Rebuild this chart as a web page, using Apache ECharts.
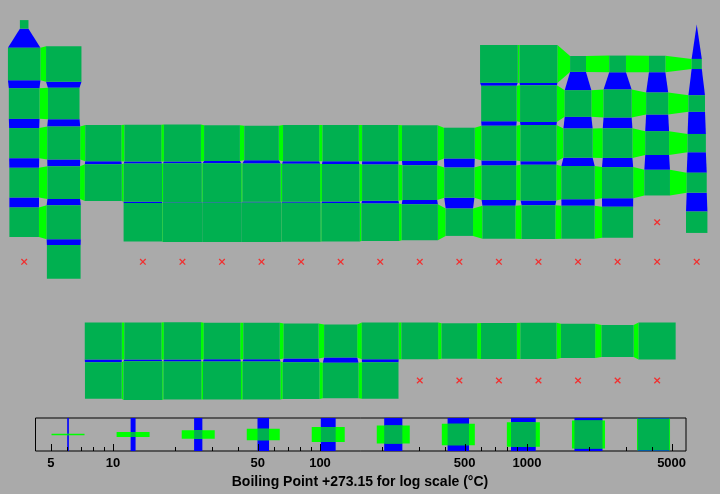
<!DOCTYPE html>
<html><head><meta charset="utf-8">
<script src="https://cdn.jsdelivr.net/npm/echarts@6/dist/echarts.min.js"></script>
<style>html,body{margin:0;padding:0;background:#aaaaaa;} #chart{width:720px;height:494px;}</style>
</head><body><div id="chart"></div>
<script>
// Elements 1..118
const symbols = ["H","He","Li","Be","B","C","N","O","F","Ne","Na","Mg","Al","Si","P","S","Cl","Ar",
"K","Ca","Sc","Ti","V","Cr","Mn","Fe","Co","Ni","Cu","Zn","Ga","Ge","As","Se","Br","Kr",
"Rb","Sr","Y","Zr","Nb","Mo","Tc","Ru","Rh","Pd","Ag","Cd","In","Sn","Sb","Te","I","Xe",
"Cs","Ba","La","Ce","Pr","Nd","Pm","Sm","Eu","Gd","Tb","Dy","Ho","Er","Tm","Yb","Lu",
"Hf","Ta","W","Re","Os","Ir","Pt","Au","Hg","Tl","Pb","Bi","Po","At","Rn",
"Fr","Ra","Ac","Th","Pa","U","Np","Pu","Am","Cm","Bk","Cf","Es","Fm","Md","No","Lr",
"Rf","Db","Sg","Bh","Hs","Mt","Ds","Rg","Cn","Nh","Fl","Mc","Lv","Ts","Og"];
const groupCol = [1,18,
1,2,13,14,15,16,17,18,
1,2,13,14,15,16,17,18,
1,2,3,4,5,6,7,8,9,10,11,12,13,14,15,16,17,18,
1,2,3,4,5,6,7,8,9,10,11,12,13,14,15,16,17,18,
1,2,3,4,5,6,7,8,9,10,11,12,13,14,15,16,17,
4,5,6,7,8,9,10,11,12,13,14,15,16,17,18,
1,2,3,4,5,6,7,8,9,10,11,12,13,14,15,16,17,
4,5,6,7,8,9,10,11,12,13,14,15,16,17,18];
const periodRow = [1,1,
2,2,2,2,2,2,2,2,
3,3,3,3,3,3,3,3,
4,4,4,4,4,4,4,4,4,4,4,4,4,4,4,4,4,4,
5,5,5,5,5,5,5,5,5,5,5,5,5,5,5,5,5,5,
6,6,9,9,9,9,9,9,9,9,9,9,9,9,9,9,9,
6,6,6,6,6,6,6,6,6,6,6,6,6,6,6,
7,7,10,10,10,10,10,10,10,10,10,10,10,10,10,10,10,
7,7,7,7,7,7,7,7,7,7,7,7,7,7,7];
// Boiling point + 273.15 (K); null = no data
const boilingK = [20.28,4.22,
1615,2742,4200,4300,77.36,90.2,85.03,27.07,
1156,1363,2792,3538,553.6,717.9,239.1,87.3,
1032,1757,3109,3560,3680,2944,2334,3134,3200,3186,2835,1180,2477,3106,887,958,332,119.9,
961,1655,3609,4682,5017,4912,4538,4423,3968,3236,2435,1040,2345,2875,1860,1261,457.4,165,
944,2170,3737,3716,3793,3347,3273,2500,1802,3546,3503,2840,2993,3141,2223,1469,3675,
4876,5731,5828,5869,5285,4701,4098,3129,629.9,1746,2022,1837,1235,null,211.3,
null,2010,3471,5061,4300,4404,4273,3501,2880,3383,null,null,null,null,null,null,null,
null,null,null,null,null,null,null,null,null,null,null,null,null,null,null];
const legendValues = [6.06,12.5,25.8,53.2,109.6,226,466,961,1983,4089];
const majorTicks = [5,10,50,100,500,1000,5000];
const majorTickLabels = ["5","10","50","100","500","1000","5000"];
const minorTicks = [6,7,8,9,20,30,40,60,70,80,90,200,300,400,600,700,800,900,2000,3000,4000];
const axisTitle = "Boiling Point +273.15 for log scale (°C)";

const DARK = '#00b050', LIME = '#00ff00', BLUE = '#0000ff';
const present = boilingK.filter(v => v != null);
const VMIN = Math.min(...present), VMAX = Math.max(...present);
const frac = v => Math.log(v / VMIN) / Math.log(VMAX / VMIN);

const lookup = {};
symbols.forEach((s, i) => { lookup[groupCol[i] + ',' + periodRow[i]] = boilingK[i]; });
const squareData = [], missingData = [], vLinks = [], hLinks = [];
symbols.forEach((s, i) => {
  const c = groupCol[i], r = periodRow[i], v = boilingK[i];
  if (v == null) { missingData.push([c, r]); return; }
  squareData.push([c, r, v]);
  const below = lookup[c + ',' + (r + 1)];
  if (below != null) vLinks.push([c, r, v, below]);
  const right = lookup[(c + 1) + ',' + r];
  if (right != null) hLinks.push([c, r, v, right]);
});

function renderV(params, api) {
  const c = api.value(0), r = api.value(1);
  const a = api.coord([c, r]), b = api.coord([c, r + 1]);
  const cw = api.size([1, 0])[0];
  const s1 = frac(api.value(2)) * cw, s2 = frac(api.value(3)) * cw;
  return {type: 'polygon', shape: {points: [[a[0]-s1/2, a[1]+s1/2], [a[0]+s1/2, a[1]+s1/2], [b[0]+s2/2, b[1]-s2/2], [b[0]-s2/2, b[1]-s2/2]]}, style: {fill: BLUE}};
}
function renderH(params, api) {
  const c = api.value(0), r = api.value(1);
  const a = api.coord([c, r]), b = api.coord([c + 1, r]);
  const cw = api.size([1, 0])[0];
  const s1 = frac(api.value(2)) * cw, s2 = frac(api.value(3)) * cw;
  return {type: 'polygon', shape: {points: [[a[0]+s1/2, a[1]-s1/2], [b[0]-s2/2, b[1]-s2/2], [b[0]-s2/2, b[1]+s2/2], [a[0]+s1/2, a[1]+s1/2]]}, style: {fill: LIME}};
}
function renderSq(params, api) {
  const p = api.coord([api.value(0), api.value(1)]);
  const s = frac(api.value(2)) * api.size([1, 0])[0];
  return {type: 'rect', shape: {x: p[0]-s/2, y: p[1]-s/2, width: s, height: s}, style: {fill: DARK}};
}
function renderMissing(params, api) {
  const p = api.coord([api.value(0), api.value(1)]);
  const h = 2.8;
  return {type: 'group', children: [
    {type: 'line', shape: {x1: p[0]-h, y1: p[1]-h, x2: p[0]+h, y2: p[1]+h}, style: {stroke: '#f03030', lineWidth: 1.3}},
    {type: 'line', shape: {x1: p[0]-h, y1: p[1]+h, x2: p[0]+h, y2: p[1]-h}, style: {stroke: '#f03030', lineWidth: 1.3}}
  ]};
}
function renderGlyph(params, api) {
  const cs = params.coordSys;
  const p = api.coord([api.value(0), 0.5]);
  const C = cs.height;
  const s = frac(api.value(0)) * C;
  return {type: 'group', children: [
    {type: 'rect', shape: {x: p[0]-s/2, y: cs.y, width: s, height: C}, style: {fill: BLUE}},
    {type: 'rect', shape: {x: p[0]-C/2, y: p[1]-s/2, width: C, height: s}, style: {fill: LIME}},
    {type: 'rect', shape: {x: p[0]-s/2, y: p[1]-s/2, width: s, height: s}, style: {fill: DARK}}
  ]};
}
function renderTick(params, api) {
  const cs = params.coordSys;
  const x = Math.round(api.coord([api.value(0), 0])[0]) + 0.5;
  const bottom = cs.y + cs.height;
  return {type: 'line', shape: {x1: x, y1: bottom, x2: x, y2: bottom - api.value(1)}, style: {stroke: '#000', lineWidth: 1}};
}
function renderLabel(params, api) {
  const cs = params.coordSys;
  const x = api.coord([api.value(0), 0])[0];
  return {type: 'text', style: {text: majorTickLabels[api.value(1)], x: x, y: cs.y + cs.height + 12, align: 'center', verticalAlign: 'middle', font: 'bold 13px "Liberation Sans", Arial, sans-serif', fill: '#000'}};
}

const tickData = majorTicks.map(v => [v, 7]).concat(minorTicks.map(v => [v, 4]));
const labelData = majorTicks.map((v, i) => [v, i]);

const chart = echarts.init(document.getElementById('chart'), null, {renderer: 'canvas'});
chart.setOption({
  animation: false,
  backgroundColor: '#aaaaaa',
  title: {text: axisTitle, left: 'center', top: 475, padding: 0,
    textStyle: {fontFamily: '"Liberation Sans", Arial, sans-serif', fontWeight: 'bold', fontSize: 14, color: '#000'}},
  grid: [
    {left: 4.4, top: 4.6, width: 712.1, height: 395.7, show: false},
    {left: 35.5, top: 418, width: 650.5, height: 33, show: true, borderColor: '#000', borderWidth: 1, backgroundColor: 'transparent'}
  ],
  xAxis: [
    {type: 'value', gridIndex: 0, min: 0.5, max: 18.5, show: false},
    {type: 'log', logBase: 10, gridIndex: 1, min: VMIN, max: VMAX, show: false}
  ],
  yAxis: [
    {type: 'value', gridIndex: 0, min: 0.5, max: 10.5, inverse: true, show: false},
    {type: 'value', gridIndex: 1, min: 0, max: 1, show: false}
  ],
  series: [
    {type: 'custom', xAxisIndex: 0, yAxisIndex: 0, data: vLinks, encode: {x: 0, y: 1}, renderItem: renderV, silent: true},
    {type: 'custom', xAxisIndex: 0, yAxisIndex: 0, data: hLinks, encode: {x: 0, y: 1}, renderItem: renderH, silent: true},
    {type: 'custom', xAxisIndex: 0, yAxisIndex: 0, data: squareData, encode: {x: 0, y: 1}, renderItem: renderSq, silent: true},
    {type: 'custom', xAxisIndex: 0, yAxisIndex: 0, data: missingData, encode: {x: 0, y: 1}, renderItem: renderMissing, silent: true},
    {type: 'custom', xAxisIndex: 1, yAxisIndex: 1, data: legendValues.map(v => [v, 0.5]), encode: {x: 0, y: 1}, renderItem: renderGlyph, silent: true},
    {type: 'custom', xAxisIndex: 1, yAxisIndex: 1, data: tickData, encode: {x: 0}, renderItem: renderTick, silent: true},
    {type: 'custom', xAxisIndex: 1, yAxisIndex: 1, data: labelData, encode: {x: 0}, renderItem: renderLabel, silent: true}
  ]
});
</script></body></html>
